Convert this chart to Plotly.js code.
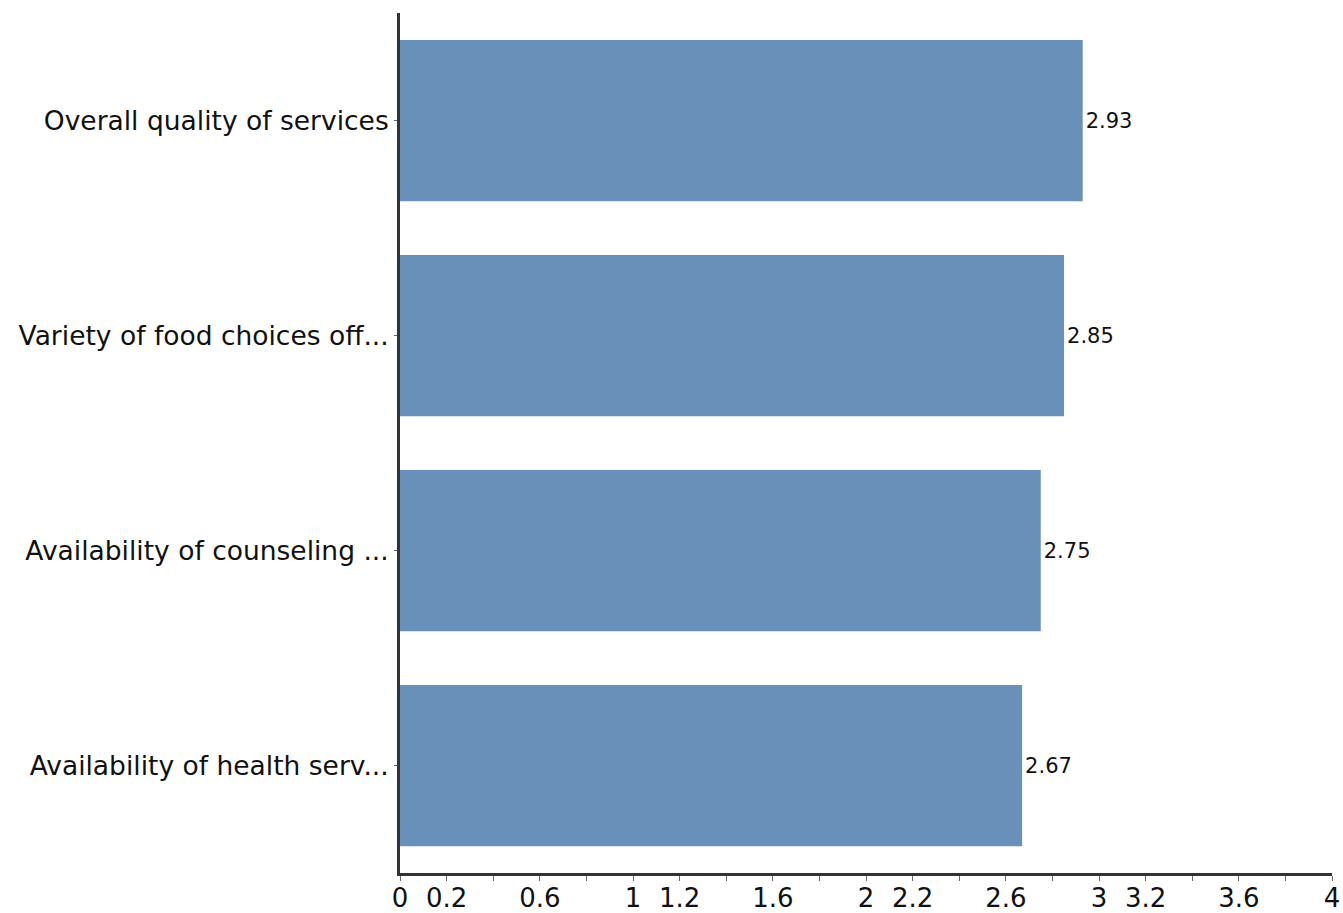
<!DOCTYPE html>
<html>
<head>
<meta charset="utf-8">
<script src="https://cdn.plot.ly/plotly-3.0.1.min.js"></script>
<style>html,body{margin:0;padding:0;background:#fff;}#chart{width:1343px;height:913px;}</style>
</head>
<body>
<div id="chart"></div>
<script>
const categories = [
  "Overall quality of services",
  "Variety of food choices off...",
  "Availability of counseling ...",
  "Availability of health serv..."
];
const values = [2.93, 2.85, 2.75, 2.67];
const valueLabels = ["2.93", "2.85", "2.75", "2.67"];
const tickValues = [0, 0.2, 0.4, 0.6, 0.8, 1, 1.2, 1.4, 1.6, 1.8, 2, 2.2, 2.4, 2.6, 2.8, 3, 3.2, 3.4, 3.6, 3.8, 4];
const tickLabels = ["0", "0.2", "", "0.6", "", "1", "1.2", "", "1.6", "", "2", "2.2", "", "2.6", "", "3", "3.2", "", "3.6", "", "4"];

const FONT = "DejaVu Sans, Arial, sans-serif";

const trace = {
  type: "bar",
  orientation: "h",
  y: categories,
  x: values,
  text: valueLabels,
  textposition: "outside",
  cliponaxis: false,
  textfont: {family: FONT, size: 21, color: "#111"},
  marker: {color: "#6990b8"},
  hoverinfo: "none"
};

const layout = {
  width: 1343,
  height: 913,
  margin: {l: 400, r: 11, t: 13, b: 40},
  paper_bgcolor: "#fff",
  plot_bgcolor: "#fff",
  showlegend: false,
  bargap: 0.25,
  font: {family: FONT, color: "#111"},
  xaxis: {
    range: [0, 4],
    tickmode: "array",
    tickvals: tickValues,
    ticktext: tickLabels,
    ticks: "outside",
    ticklen: 5,
    tickwidth: 1,
    tickcolor: "#666",
    ticklabelstandoff: -5,
    showgrid: false,
    zeroline: false,
    showline: true,
    linecolor: "#333",
    linewidth: 3,
    tickfont: {family: FONT, size: 26, color: "#111"},
    fixedrange: true
  },
  yaxis: {
    autorange: "reversed",
    ticks: "outside",
    ticklen: 3,
    tickwidth: 1,
    tickcolor: "#666",
    showgrid: false,
    zeroline: false,
    showline: true,
    linecolor: "#333",
    linewidth: 3,
    tickfont: {family: FONT, size: 26.5, color: "#111"},
    fixedrange: true
  }
};

Plotly.newPlot("chart", [trace], layout, {displayModeBar: false, staticPlot: true});
</script>
</body>
</html>
